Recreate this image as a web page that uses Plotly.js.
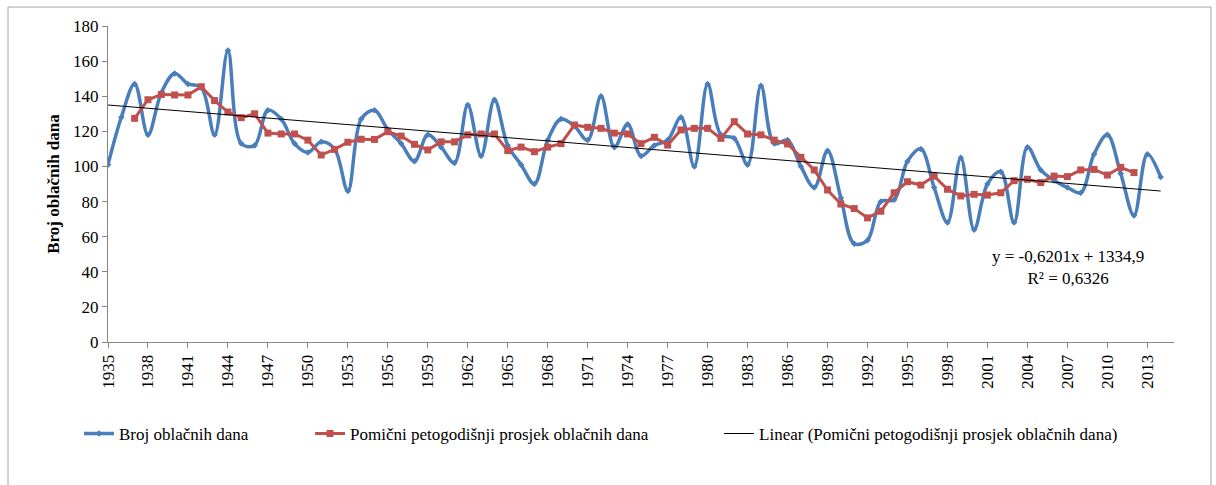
<!DOCTYPE html>
<html>
<head>
<meta charset="utf-8">
<script src="https://cdn.plot.ly/plotly-3.0.1.min.js"></script>
<style>html,body{margin:0;padding:0;background:#fff;}#chart{width:1216px;height:485px;}</style>
</head>
<body>
<div id="chart"></div>
<script>
// Years 1935-2014
var years = [];
for (var yy = 1935; yy <= 2014; yy++) years.push(yy);

// Broj oblačnih dana (annual cloudy days)
var cloudyDays = [
  101, 128, 147, 118, 142, 153, 147, 145, 118, 166,
  113, 112, 132, 127, 113, 108, 114, 110, 86, 127,
  132, 121, 113, 103, 118, 111, 102, 135, 106, 138,
  112, 101, 90, 115, 127, 123, 115, 140, 111, 124,
  106, 112, 115, 128, 100, 147, 118, 116, 101, 146,
  113, 115, 100, 88, 109, 82, 56, 58, 80, 81,
  103, 110, 88, 68, 105, 64, 90, 97, 68, 111,
  98, 92, 88, 85, 107, 118, 96, 72, 107, 94
];

// Pomični petogodišnji prosjek (5-year moving average), 1937-2012
var maYears = [];
for (var my = 1937; my <= 2012; my++) maYears.push(my);
var movingAvg = [
  127.4, 138.0, 141.0, 140.7, 140.7, 145.4, 137.5, 131.0, 127.8, 130.0,
  119.0, 118.5, 118.5, 115.0, 106.5, 109.7, 113.8, 115.5, 115.4, 119.8,
  117.3, 112.6, 109.4, 114.0, 114.0, 118.0, 118.5, 118.5, 109.0, 111.0,
  108.4, 111.0, 113.0, 123.6, 122.3, 121.7, 119.0, 118.5, 113.0, 116.6,
  112.2, 120.8, 121.7, 121.7, 116.0, 125.5, 118.5, 118.0, 115.0, 112.8,
  105.2, 98.0, 86.6, 78.6, 76.0, 70.7, 74.5, 85.0, 91.3, 89.4,
  94.5, 87.0, 83.2, 84.1, 83.7, 85.0, 91.9, 92.7, 90.8, 94.5,
  94.2, 98.0, 98.3, 95.1, 99.5, 96.5
];

// Linear trend endpoints (y = -0,6201x + 1334,9)
var trendYears = [1935, 2014];
var trendValues = [135.0, 86.0];

var xTicks = [];
for (var t = 1935; t <= 2013; t += 3) xTicks.push(t);
var yTicks = [0, 20, 40, 60, 80, 100, 120, 140, 160, 180];

var serif = "Liberation Serif";
var blue = '#4A7EBB';
var red = '#C0504D';

var traces = [
  {
    x: years, y: cloudyDays, type: 'scatter', mode: 'lines+markers',
    name: 'Broj oblačnih dana',
    line: {color: blue, width: 3.5, shape: 'spline', smoothing: 1},
    marker: {symbol: 'diamond', size: 5, color: blue},
    legend: 'legend'
  },
  {
    x: maYears, y: movingAvg, type: 'scatter', mode: 'lines+markers',
    name: 'Pomični petogodišnji prosjek oblačnih dana',
    line: {color: red, width: 3},
    marker: {symbol: 'square', size: 7, color: red},
    legend: 'legend2'
  },
  {
    x: trendYears, y: trendValues, type: 'scatter', mode: 'lines',
    name: 'Linear (Pomični petogodišnji prosjek oblačnih dana)',
    line: {color: '#000000', width: 1},
    legend: 'legend3'
  }
];

var legendBase = {
  orientation: 'h', yanchor: 'middle', xanchor: 'left', y: -0.291,
  font: {family: serif, size: 17, color: '#000'}, bgcolor: 'rgba(0,0,0,0)'
};
function leg(x) { var o = {}; for (var k in legendBase) o[k] = legendBase[k]; o.x = x; return o; }

var layout = {
  width: 1216, height: 485,
  margin: {l: 108, r: 42, t: 26, b: 143},
  paper_bgcolor: '#fff', plot_bgcolor: '#fff',
  font: {family: serif},
  showlegend: true,
  legend: leg(-0.0272),
  legend2: leg(0.1895),
  legend3: leg(0.5732),
  xaxis: {
    range: [1935, 2015], tickvals: xTicks, ticktext: xTicks.map(String),
    tickangle: -90, ticks: 'outside', ticklen: 5, tickcolor: '#868686',
    showline: true, linecolor: '#868686', linewidth: 1, showgrid: false, zeroline: false,
    tickfont: {family: serif, size: 17, color: '#000'}
  },
  yaxis: {
    range: [0, 180], tickvals: yTicks, ticks: 'outside', ticklen: 5, tickcolor: '#868686',
    showline: true, linecolor: '#868686', linewidth: 1, showgrid: false, zeroline: false,
    tickfont: {family: serif, size: 17, color: '#000'},
    title: {text: '<b>Broj oblačnih dana</b>', font: {family: serif, size: 17, color: '#000'}, standoff: 9}
  },
  annotations: [{
    xref: 'paper', yref: 'paper', x: 0.9006, y: 0.2358, xanchor: 'center', yanchor: 'middle',
    text: 'y = -0,6201x + 1334,9<br>R² = 0,6326', showarrow: false, align: 'center',
    font: {family: serif, size: 17, color: '#000'}
  }],
  shapes: [{
    type: 'rect', xref: 'paper', yref: 'paper',
    x0: -0.0938, x1: 1.0347, y0: -0.47, y1: 1.060,
    line: {color: '#A6A6A6', width: 1}, fillcolor: 'rgba(0,0,0,0)', layer: 'below'
  }]
};

Plotly.newPlot('chart', traces, layout, {displayModeBar: false, staticPlot: true});
</script>
</body>
</html>
